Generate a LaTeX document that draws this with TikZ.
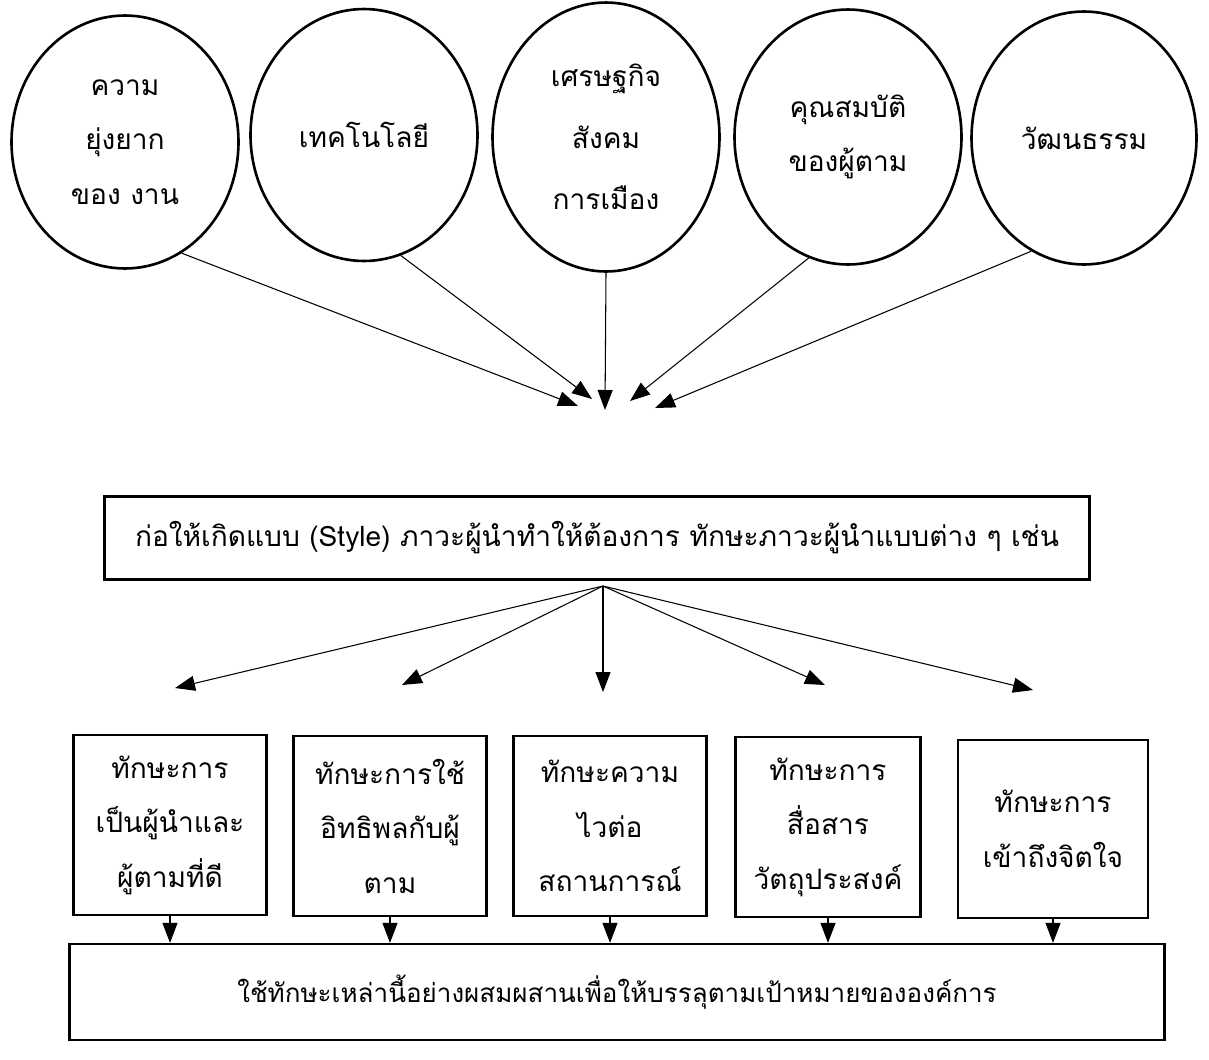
\documentclass[tikz,border=0pt]{standalone}
\usepackage{fontspec}
\newfontfamily\thaifont[Script=Thai]{Loma}
\usetikzlibrary{shapes.geometric,arrows.meta}

\begin{document}
\begin{tikzpicture}[x=0.02cm, y=-0.02cm,
    font=\thaifont\fontsize{16}{31}\selectfont,
    facteur/.style={ellipse, draw, line width=1.5pt, inner sep=0pt, align=center, minimum width=4.54cm},
    boite/.style={rectangle, draw, line width=1.3pt, align=center},
    competence/.style={boite, minimum width=3.86cm, minimum height=3.6cm},
    fleche/.style={-{Triangle[length=0.4cm,width=0.3cm]}, line width=0.6pt}]
\useasboundingbox (0,0) rectangle (1209,1059);

            % Facteurs
            \node[facteur, minimum height=5.06cm] (e1) at (125,142) {ความ\\ยุ่งยาก\\ของ งาน};
            \node[facteur, minimum height=5.04cm] (e2) at (364,135) {เทคโนโลยี};
            \node[facteur, minimum height=5.38cm, font=\thaifont\fontsize{16}{35}\selectfont] (e3) at (606,137) {เศรษฐกิจ\\สังคม\\การเมือง};
            \node[facteur, minimum height=5.1cm] (e4) at (848,137) {คุณสมบัติ\\ของผู้ตาม};
            \node[facteur, minimum height=5.06cm, minimum width=4.5cm] (e5) at (1084,138) {วัฒนธรรม};

            % Convergence
            \coordinate (c1) at (578,406);
            \coordinate (c2) at (592,399);
            \coordinate (c3) at (605,410);
            \coordinate (c4) at (630,401);
            \coordinate (c5) at (655,408);
            \draw[fleche] (e1.-63) -- (c1);
            \draw[fleche] (e2.-73) -- (c2);
            \draw[fleche] (e3.south) -- (c3);
            \draw[fleche] (e4.-108) -- (c4);
            \draw[fleche] (e5.-115) -- (c5);

            % Style de leadership
            \node[boite, minimum width=19.7cm, minimum height=1.66cm] (style) at (597,538) {ก่อให้เกิดแบบ (Style) ภาวะผู้นำทำให้ต้องการ ทักษะภาวะผู้นำแบบต่าง ๆ เช่น};

            \coordinate (fan) at (603,586);
            \coordinate (s1) at (175,688);
            \coordinate (s2) at (402,685);
            \coordinate (s3) at (603,692);
            \coordinate (s4) at (825,685);
            \coordinate (s5) at (1033,690);
            \foreach \s in {s1,s2,s3,s4,s5} {
                \draw[fleche] (fan) -- (\s);
            }

            % Competences
            \node[competence] (b1) at (170,825) {ทักษะการ\\เป็นผู้นำและ\\ผู้ตามที่ดี};
            \node[competence] (b2) at (390,826) {ทักษะการใช้\\อิทธิพลกับผู้\\ตาม};
            \node[competence] (b3) at (610,826) {ทักษะความ\\ไวต่อ\\สถานการณ์};
            \node[competence, minimum width=3.7cm] (b4) at (828,827) {ทักษะการ\\สื่อสาร\\วัตถุประสงค์};
            \node[competence, minimum width=3.8cm, minimum height=3.56cm] (b5) at (1053,829) {ทักษะการ\\เข้าถึงจิตใจ};

            % Objectif
            \node[boite, minimum width=21.9cm, minimum height=1.92cm, font=\thaifont\fontsize{14.8}{30}\selectfont] (but) at (617,992) {ใช้ทักษะเหล่านี้อย่างผสมผสานเพื่อให้บรรลุตามเป้าหมายขององค์การ};

            \foreach \b in {b1,b2,b3,b4,b5} {
                \draw[fleche] (\b) -- (\b |- but.north);
            }
\end{tikzpicture}
\end{document}
